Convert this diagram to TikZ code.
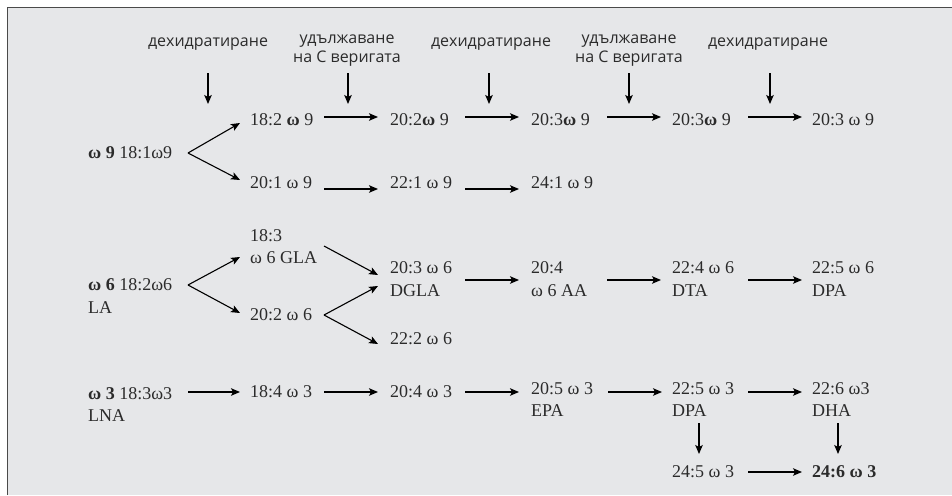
\documentclass[tikz,border=0pt]{standalone}
\usepackage{fontspec}
\setmainfont{Liberation Serif}
\newfontfamily\bgfont[Script=Cyrillic,Language=Bulgarian]{Open Sans}
\usetikzlibrary{arrows.meta}
\definecolor{bgc}{HTML}{E6E7E9}
\definecolor{framec}{HTML}{4A4A4A}
\definecolor{txtc}{HTML}{2B2B2B}
\tikzset{
  acid/.style={anchor=west,inner sep=0pt,align=left,text=txtc,font=\fontsize{18}{22.5}\selectfont},
  head/.style={anchor=base,inner sep=0pt,text=txtc,font=\bgfont\fontsize{16}{19}\selectfont},
  arr/.style={-{Stealth[length=9pt,width=7.5pt,inset=2pt]},line width=1.1pt,black},
}
\begin{document}
\begin{tikzpicture}[x=1pt,y=-1pt]
\useasboundingbox (0,0) rectangle (952,495);
\fill[bgc] (7.5,7.5) rectangle (952,495);
\draw[framec,line width=1.5pt] (7.5,495) -- (7.5,7.5) -- (952,7.5);

% headers
\node[head] (h1) at (208,46.5) {дехидратиране};
\node[head] (h2a) at (347,44) {удължаване};
\node[head] (h2b) at (347,63) {на С веригата};
\node[head] (h3) at (491,46.5) {дехидратиране};
\node[head] (h4a) at (629,44) {удължаване};
\node[head] (h4b) at (629,63) {на С веригата};
\node[head] (h5) at (768,46.5) {дехидратиране};
\foreach \i/\x in {1/208,2/348,3/489,4/629,5/770}{
  \coordinate (d\i s) at (\x,73);
  \coordinate (d\i e) at (\x,104);
  \draw[arr] (d\i s) -- (d\i e);
}

% omega 9
\node[acid] (s9) at (88,153) {\textbf{ω 9} 18:1ω9};
\node[acid] (r1a) at (250,120) {18:2 \textbf{ω} 9};
\node[acid] (r1b) at (390,120) {20:2\textbf{ω} 9};
\node[acid] (r1c) at (531,120) {20:3\textbf{ω} 9};
\node[acid] (r1d) at (672,120) {20:3\textbf{ω} 9};
\node[acid] (r1e) at (812,120) {20:3 ω 9};
\node[acid] (r2a) at (250,183) {20:1 ω 9};
\node[acid] (r2b) at (390,183) {22:1 ω 9};
\node[acid] (r2c) at (531,183) {24:1 ω 9};
\draw[arr] ([shift={(100,0)}]s9.west) -- ([shift={(-10,3)}]r1a.west);
\draw[arr] ([shift={(100,0)}]s9.west) -- ([shift={(-10,-3)}]r2a.west);
\draw[arr] ([shift={(74,-3)}]r1a.west) -- ([shift={(-12,-3)}]r1b.west);
\draw[arr] ([shift={(75,-3)}]r1b.west) -- ([shift={(-12,-3)}]r1c.west);
\draw[arr] ([shift={(76,-3)}]r1c.west) -- ([shift={(-11,-3)}]r1d.west);
\draw[arr] ([shift={(76,-3)}]r1d.west) -- ([shift={(-10,-3)}]r1e.west);
\draw[arr] ([shift={(74,6)}]r2a.west) -- ([shift={(-12,6)}]r2b.west);
\draw[arr] ([shift={(75,6)}]r2b.west) -- ([shift={(-12,6)}]r2c.west);

% omega 6
\node[acid] (s6) at (88,296) {\textbf{ω 6} 18:2ω6\\LA};
\node[acid] (g1) at (250,246.5) {18:3\\ω 6 GLA};
\node[acid] (g2) at (250,315) {20:2 ω 6};
\node[acid] (g3) at (390,279) {20:3 ω 6\\DGLA};
\node[acid] (g4) at (390,339) {22:2 ω 6};
\node[acid] (g5) at (531,279) {20:4\\ω 6 AA};
\node[acid] (g6) at (672,279) {22:4 ω 6\\DTA};
\node[acid] (g7) at (812,279) {22:5 ω 6\\DPA};
\draw[arr] ([shift={(100,-11)}]s6.west) -- ([shift={(-10,10.5)}]g1.west);
\draw[arr] ([shift={(100,-11)}]s6.west) -- ([shift={(-10,-2)}]g2.west);
\draw[arr] ([shift={(74,-0.5)}]g1.west) -- ([shift={(-12,-4)}]g3.west);
\draw[arr] ([shift={(74,0)}]g2.west) -- ([shift={(-12,7)}]g3.west);
\draw[arr] ([shift={(74,0)}]g2.west) -- ([shift={(-12,5)}]g4.west);
\draw[arr] ([shift={(75,1)}]g3.west) -- ([shift={(-12,1)}]g5.west);
\draw[arr] ([shift={(76,1)}]g5.west) -- ([shift={(-11,1)}]g6.west);
\draw[arr] ([shift={(76,1)}]g6.west) -- ([shift={(-10,1)}]g7.west);

% omega 3
\node[acid] (s3) at (88,404.5) {\textbf{ω 3} 18:3ω3\\LNA};
\node[acid] (t1) at (250,392) {18:4 ω 3};
\node[acid] (t2) at (390,392) {20:4 ω 3};
\node[acid] (t3) at (531,399.5) {20:5 ω 3\\EPA};
\node[acid] (t4) at (672,399.5) {22:5 ω 3\\DPA};
\node[acid] (t5) at (812,399.5) {22:6 ω3\\DHA};
\node[acid] (t6) at (672,472) {24:5 ω 3};
\node[acid] (t7) at (812,472) {\textbf{24:6 ω 3}};
\draw[arr] ([shift={(100,-12.5)}]s3.west) -- ([shift={(-10,0)}]t1.west);
\draw[arr] ([shift={(74,0)}]t1.west) -- ([shift={(-12,0)}]t2.west);
\draw[arr] ([shift={(75,0)}]t2.west) -- ([shift={(-12,-7.5)}]t3.west);
\draw[arr] ([shift={(77,-7.5)}]t3.west) -- ([shift={(-10,-7.5)}]t4.west);
\draw[arr] ([shift={(76,-7.5)}]t4.west) -- ([shift={(-10,-7.5)}]t5.west);
\draw[arr] ([shift={(27,23.5)}]t4.west) -- ([shift={(27,-18)}]t6.west);
\draw[arr] ([shift={(26,23.5)}]t5.west) -- ([shift={(26,-18)}]t7.west);
\draw[arr] ([shift={(76,0)}]t6.west) -- ([shift={(-10,0)}]t7.west);
\end{tikzpicture}
\end{document}
